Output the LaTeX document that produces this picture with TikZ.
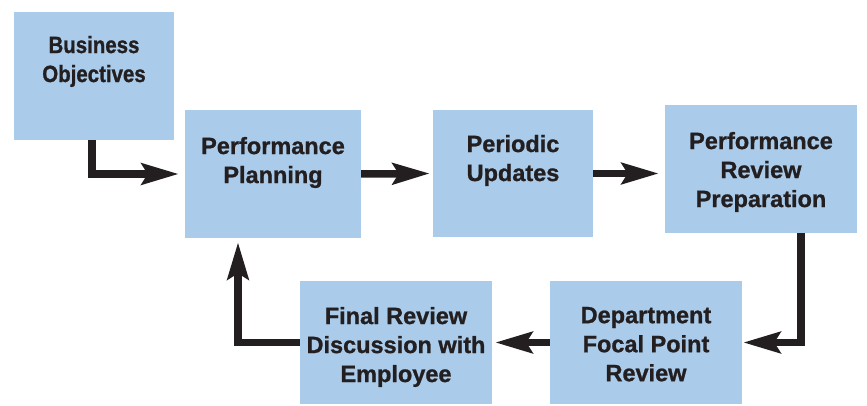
\documentclass[tikz,border=0pt]{standalone}
\usepackage{fontspec}
\setmainfont{Liberation Sans}[BoldFeatures={FakeBold=1}]
\newfontfamily\narrowsans{Liberation Sans}[FakeStretch=0.87, BoldFeatures={FakeBold=1}]
\usepackage{tikz}
\usetikzlibrary{positioning, arrows.meta}
\definecolor{BoxBlue}{HTML}{AACBEA}
\definecolor{InkBlack}{HTML}{231F20}

\begin{document}
\begin{tikzpicture}[x=1pt, y=-1pt,
  box/.style={fill=BoxBlue, inner sep=0pt},
  txt/.style={font=\fontsize{23.5}{29}\selectfont\bfseries, text=InkBlack, align=center, inner sep=0pt},
  flow/.style={draw=InkBlack, line width=7.5pt, -{Stealth[length=37pt, width=21pt, inset=6pt]}},
]
  \useasboundingbox (0,0) rectangle (867,406);

  % Top row
  \node[box, minimum width=160pt, minimum height=128pt] (bo) at (94,76) {};
  \node[box, minimum width=176pt, minimum height=128pt] (pp) at (273,174) {};
  \node[box, minimum width=160pt, minimum height=127pt] (pu) at (513,173.5) {};
  \node[box, minimum width=192pt, minimum height=128pt] (prp) at (761,169) {};

  % Bottom row
  \node[box, minimum width=192pt, minimum height=123pt] (dfp) at (646,342.5) {};
  \node[box, minimum width=192pt, minimum height=123pt] (fr) at (396,342.5) {};

  % Labels
  \node[txt, font=\narrowsans\fontsize{23.5}{29}\selectfont\bfseries, below=24pt of bo.north] (botxt) {Business\\Objectives};
  \node[txt, below=27pt of pp.north] (pptxt) {Performance\\Planning};
  \node[txt, below=25pt of pu.north] (putxt) {Periodic\\Updates};
  \node[txt, below=27pt of prp.north] (prptxt) {Performance\\Review\\Preparation};
  \node[txt, below=26pt of dfp.north] (dfptxt) {Department\\Focal Point\\Review};
  \node[txt, below=26pt of fr.north] (frtxt) {Final Review\\Discussion with\\Employee};

  % Connectors
  \draw[flow, shorten >=6pt] ([xshift=-2pt]bo.south) |- (pp.west);
  \draw[flow, shorten >=3pt] (pp.east) -- (pu.west);
  \draw[flow, shorten >=6pt] (pu.east) -- (pu.east -| prp.west);
  \draw[flow, shorten >=1pt] ([xshift=40pt]prp.south) |- (dfp.east);
  \draw[flow, shorten >=3pt] (dfp.west) -- (fr.east);
  \draw[flow, shorten >=4pt] (fr.west) -| ([xshift=-35pt]pp.south);
\end{tikzpicture}
\end{document}
